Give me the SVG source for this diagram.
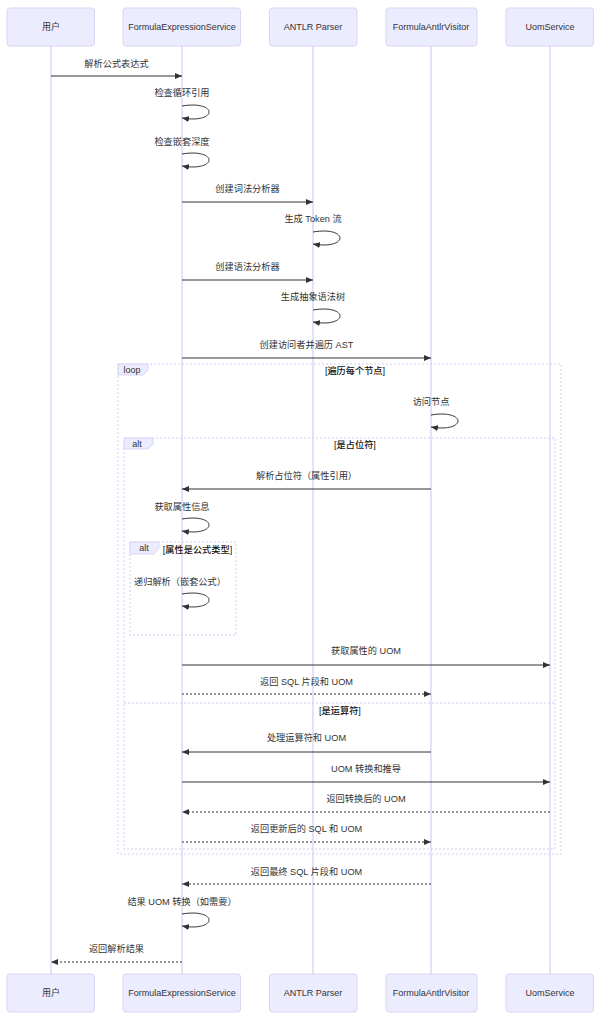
<svg xmlns="http://www.w3.org/2000/svg" width="600" height="1024" viewBox="0 0 600 1024">
<style>
.bg{fill:#ffffff}
.actor rect{fill:#ECECFF;stroke:#dcd3f5;stroke-width:1}
.actor text{font-family:"Liberation Sans",Arial,"Noto Sans CJK SC",sans-serif;font-size:9px;fill:#333;text-anchor:middle}
.life{stroke:#d9d0f4;stroke-width:1.3}
.msg{stroke:#333;stroke-width:1;fill:none}
.dash{stroke-dasharray:2 2}
.mt{font-family:"Liberation Sans",Arial,"Noto Sans CJK SC",sans-serif;font-size:9.2px;fill:#333;text-anchor:middle}
.frame{fill:none;stroke:#d3ccf2;stroke-width:1;stroke-dasharray:2 2}
.lbox{fill:#ECECFF;stroke:#d3ccf2;stroke-width:0.8}
.lt{font-family:"Liberation Sans",Arial,"Noto Sans CJK SC",sans-serif;font-size:9px;fill:#333;text-anchor:middle}
.ft{font-family:"Liberation Sans",Arial,"Noto Sans CJK SC",sans-serif;font-size:9.2px;fill:#111;text-anchor:middle;font-weight:500}
</style>
<defs>
<marker id="arr" markerUnits="userSpaceOnUse" markerWidth="7" markerHeight="6" refX="7" refY="3" orient="auto">
<path d="M0,0 L7,3 L0,6 z" fill="#333"/>
</marker>
</defs>
<rect class="bg" x="0" y="0" width="600" height="1024"/>

<g id="lifelines">
<line class="life" x1="51" y1="46" x2="51" y2="974"/>
<line class="life" x1="182" y1="46" x2="182" y2="974"/>
<line class="life" x1="313" y1="46" x2="313" y2="974"/>
<line class="life" x1="431" y1="46" x2="431" y2="974"/>
<line class="life" x1="550" y1="46" x2="550" y2="974"/>
</g>

<g id="frames">
<g id="loop-frame">
<rect class="frame" x="118" y="364" width="443" height="490"/>
<polygon class="lbox" points="118,364 148,364 148,370 143,375 118,375"/>
<text class="lt" x="132" y="373">loop</text>
<text class="ft" x="355" y="374">[遍历每个节点]</text>
</g>
<g id="alt-frame">
<rect class="frame" x="124" y="438" width="431" height="411"/>
<polygon class="lbox" points="124,438 153,438 153,444 148,449 124,449"/>
<text class="lt" x="137" y="447">alt</text>
<text class="ft" x="355" y="448">[是占位符]</text>
<line class="frame" x1="124" y1="703" x2="555" y2="703"/>
<text class="ft" x="340" y="714">[是运算符]</text>
</g>
<g id="inner-alt-frame">
<rect class="frame" x="130" y="542" width="106" height="93"/>
<polygon class="lbox" points="130,542 159,542 159,548 154,554 130,554"/>
<text class="lt" x="144" y="551">alt</text>
<text class="ft" x="197.5" y="553">[属性是公式类型]</text>
</g>
</g>

<g id="connectors">
<line class="msg" x1="51" y1="76" x2="182" y2="76" marker-end="url(#arr)"/>
<text class="mt" x="116.5" y="67">解析公式表达式</text>

<path class="msg" d="M182,106 C218,100 218,124 182,118" marker-end="url(#arr)"/>
<text class="mt" x="182" y="96">检查循环引用</text>

<path class="msg" d="M182,154 C218,148 218,172 182,166" marker-end="url(#arr)"/>
<text class="mt" x="182" y="145">检查嵌套深度</text>

<line class="msg" x1="182" y1="202" x2="313" y2="202" marker-end="url(#arr)"/>
<text class="mt" x="247.5" y="192">创建词法分析器</text>

<path class="msg" d="M313,232 C349,226 349,250 313,244" marker-end="url(#arr)"/>
<text class="mt" x="313" y="222">生成 Token 流</text>

<line class="msg" x1="182" y1="280" x2="313" y2="280" marker-end="url(#arr)"/>
<text class="mt" x="247.5" y="270">创建语法分析器</text>

<path class="msg" d="M313,310 C349,304 349,328 313,322" marker-end="url(#arr)"/>
<text class="mt" x="313" y="300">生成抽象语法树</text>

<line class="msg" x1="182" y1="358" x2="431" y2="358" marker-end="url(#arr)"/>
<text class="mt" x="306.5" y="348">创建访问者并遍历 AST</text>

<path class="msg" d="M431,415 C467,409 467,433 431,427" marker-end="url(#arr)"/>
<text class="mt" x="431" y="405">访问节点</text>

<line class="msg" x1="431" y1="489" x2="182" y2="489" marker-end="url(#arr)"/>
<text class="mt" x="306.5" y="479">解析占位符（属性引用）</text>

<path class="msg" d="M182,519 C218,513 218,537 182,531" marker-end="url(#arr)"/>
<text class="mt" x="182" y="510">获取属性信息</text>

<path class="msg" d="M182,594 C218,588 218,612 182,606" marker-end="url(#arr)"/>
<text class="mt" x="180" y="585">递归解析（嵌套公式）</text>

<line class="msg" x1="182" y1="665" x2="550" y2="665" marker-end="url(#arr)"/>
<text class="mt" x="366" y="654">获取属性的 UOM</text>

<line class="msg dash" x1="182" y1="694" x2="431" y2="694" marker-end="url(#arr)"/>
<text class="mt" x="306.5" y="685">返回 SQL 片段和 UOM</text>

<line class="msg" x1="431" y1="752" x2="182" y2="752" marker-end="url(#arr)"/>
<text class="mt" x="306.5" y="741">处理运算符和 UOM</text>

<line class="msg" x1="182" y1="782" x2="550" y2="782" marker-end="url(#arr)"/>
<text class="mt" x="366" y="772">UOM 转换和推导</text>

<line class="msg dash" x1="550" y1="812" x2="182" y2="812" marker-end="url(#arr)"/>
<text class="mt" x="366" y="802">返回转换后的 UOM</text>

<line class="msg dash" x1="182" y1="842" x2="431" y2="842" marker-end="url(#arr)"/>
<text class="mt" x="306.5" y="832">返回更新后的 SQL 和 UOM</text>

<line class="msg dash" x1="431" y1="884" x2="182" y2="884" marker-end="url(#arr)"/>
<text class="mt" x="306.5" y="875">返回最终 SQL 片段和 UOM</text>

<path class="msg" d="M182,914 C218,908 218,932 182,926" marker-end="url(#arr)"/>
<text class="mt" x="182" y="905">结果 UOM 转换（如需要）</text>

<line class="msg dash" x1="182" y1="962" x2="51" y2="962" marker-end="url(#arr)"/>
<text class="mt" x="116.5" y="952">返回解析结果</text>
</g>

<g id="actor-user-top" class="actor"><rect x="7" y="8" width="87.5" height="38" rx="3"/><text x="51" y="30">用户</text></g>
<g id="actor-fes-top" class="actor"><rect x="123" y="8" width="117.5" height="38" rx="3"/><text x="182" y="30">FormulaExpressionService</text></g>
<g id="actor-antlr-top" class="actor"><rect x="269.5" y="8" width="87.5" height="38" rx="3"/><text x="313" y="30">ANTLR Parser</text></g>
<g id="actor-visitor-top" class="actor"><rect x="386" y="8" width="91" height="38" rx="3"/><text x="431" y="30">FormulaAntlrVisitor</text></g>
<g id="actor-uom-top" class="actor"><rect x="506" y="8" width="87.5" height="38" rx="3"/><text x="550" y="30">UomService</text></g>

<g id="actor-user-bottom" class="actor"><rect x="7" y="974" width="87.5" height="38" rx="3"/><text x="51" y="996">用户</text></g>
<g id="actor-fes-bottom" class="actor"><rect x="123" y="974" width="117.5" height="38" rx="3"/><text x="182" y="996">FormulaExpressionService</text></g>
<g id="actor-antlr-bottom" class="actor"><rect x="269.5" y="974" width="87.5" height="38" rx="3"/><text x="313" y="996">ANTLR Parser</text></g>
<g id="actor-visitor-bottom" class="actor"><rect x="386" y="974" width="91" height="38" rx="3"/><text x="431" y="996">FormulaAntlrVisitor</text></g>
<g id="actor-uom-bottom" class="actor"><rect x="506" y="974" width="87.5" height="38" rx="3"/><text x="550" y="996">UomService</text></g>
</svg>
